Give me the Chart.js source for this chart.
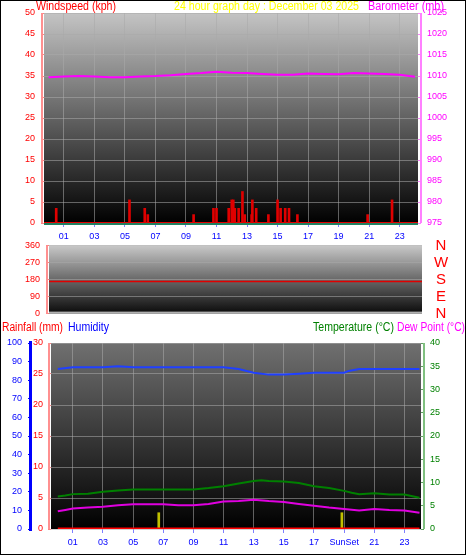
<!DOCTYPE html>
<html><head><meta charset="utf-8">
<script src="https://cdn.jsdelivr.net/npm/chart.js@4"></script>
<style>
body{margin:0;background:#fff;}
#frame{position:absolute;left:0;top:0;width:464px;height:553px;border:1px solid #000;background:#fff;overflow:hidden}
canvas{position:absolute;left:0}
</style></head><body>
<div id="frame">
<canvas id="c1" style="top:0"></canvas>
<canvas id="c2" style="top:233px"></canvas>
<canvas id="c3" style="top:318px"></canvas>
</div>
<script>
// ---- data ----
const hourTicks1 = [1,3,5,7,9,11,13,15,17,19,21,23];
const hourTicks3 = [1,3,5,7,9,11,13,15,17,19,21,23];
const pressHours = [0,1,2,3,4,5,6,7,8,9,10,11,12,13,14,15,16,17,18,19,20,21,22,23,24];
const pressVals  = [1009.7,1009.9,1010.0,1009.9,1009.7,1009.7,1009.9,1010.0,1010.2,1010.5,1010.7,1011.0,1010.8,1010.7,1010.5,1010.3,1010.3,1010.6,1010.5,1010.4,1010.7,1010.6,1010.5,1010.3,1009.8];
const gustHours = [0.5,5.3,6.3,6.5,9.5,10.8,11.0,11.8,12.0,12.1,12.2,12.45,12.7,12.85,13.3,13.35,13.6,14.4,15.0,15.2,15.5,15.75,16.3,20.9,22.5];
const gustVals  = [3.5,5.5,3.5,2,2,3.5,3.5,3.5,5.5,5.5,3.5,3.5,7.5,2,2,5.5,3.5,2,5.5,3.5,3.5,3.5,2,2,5.5];
const dirHours = [0,24];
const dirVals = [170,170];
const humHours = [0,1,3,4,5,7,9,11,12,13,14,15,16,17,18,19,19.3,20,21,22,23,24];
const humVals  = [86,87,87,87.5,87,87,87,87,86,84,83,83,83.5,84,84,84,85,86,86,86,86,86];
const tempHours = [0,0.5,1,2,3,4,5,7,9,10,11,12,13,13.5,14,15,16,17,18,19,19.5,20,21,22,23,24];
const tempVals  = [7,7.2,7.5,7.6,8,8.3,8.5,8.5,8.5,8.8,9.2,9.8,10.3,10.5,10.3,10.2,9.9,9.2,8.8,8.2,7.8,7.5,7.7,7.4,7.4,6.7];
const dewHours = [0,0.5,1,2,3,4,5,7,8,9,10,11,12,13,14,15,16,17,18,19,20,21,22,23,24];
const dewVals  = [3.8,4.1,4.4,4.6,4.8,5.1,5.3,5.3,5.1,5.1,5.4,5.9,6.0,6.3,6.0,5.8,5.4,5.0,4.6,4.3,4.0,4.3,4.1,4.0,3.5];
const rainHours = [0,24];
const rainVals = [0,0];
const sunHours = [6.7,18.85];
const sunVals = [3.5,3.5];
const sunLabels = {19:'SunSet'};
const dirTicks = [0,90,180,270,360];
const dirLabels = ['N','E','S','W','N'];

const FONT = 'Liberation Sans';
Chart.defaults.font.family = FONT;
Chart.defaults.font.size = 9;
Chart.defaults.animation = false;
Chart.defaults.devicePixelRatio = 1;

const bg = {
  id:'bg',
  beforeDraw(ch, a, o){
    const {ctx, chartArea:c} = ch;
    const g = ctx.createLinearGradient(0,c.top,0,c.bottom);
    g.addColorStop(0,o.top||'#bdbdbd'); g.addColorStop(1,o.bottom||'#000');
    ctx.save(); ctx.fillStyle=g; ctx.fillRect(c.left,c.top,c.right-c.left,c.bottom-c.top); ctx.restore();
  },
  afterDraw(ch,a,o){
    const ctx = ch.ctx; ctx.save();
    (o.texts||[]).forEach(t=>{ctx.font=(t.size||12)+'px '+FONT; ctx.fillStyle=t.color; ctx.textAlign=t.align||'left'; ctx.textBaseline='top'; ctx.fillText(t.text,t.x,t.y,t.w);});
    (o.lines||[]).forEach(l=>{ctx.fillStyle=l.color; ctx.fillRect(l.x,l.y,l.w,l.h);});
    ctx.restore();
  }
};
function fixW(w){return function(s){s.width=w;};}
function fixH(h){return function(s){s.height=h;};}
const gridC = 'rgba(170,170,170,0.55)';
const fmt = v=>String(v);

function make(id,w,h){const c=document.getElementById(id); c.width=w; c.height=h; c.style.width=w+'px'; c.style.height=h+'px'; return c;}

// chart 1
new Chart(make('c1',466,245),{
  type:'line',
  data:{datasets:[
    {type:'bar',data:gustHours.map((x,i)=>({x,y:gustVals[i]})),backgroundColor:'#e00000',barThickness:2,yAxisID:'y',order:2},
    {data:pressHours.map((x,i)=>({x,y:pressVals[i]})),borderColor:'#ff00ff',borderWidth:2,pointRadius:0,yAxisID:'y2',order:1},
    {data:[{x:-0.3,y:0},{x:24.2,y:0}],borderColor:'#e00000',borderWidth:2,pointRadius:0,yAxisID:'y',order:3}
  ]},
  options:{responsive:false,layout:{padding:{top:12,bottom:0,left:0,right:0}},
    plugins:{legend:{display:false},tooltip:{enabled:false},
      bg:{top:'#c4c4c4',bottom:'#000',texts:[
        {text:'Windspeed (kph)',x:35,y:0,w:80,color:'#ff0000'},
        {text:'24 hour graph day : December 03 2025',x:173,y:0,w:185,color:'#ffff00'},
        {text:'Barometer (mb)',x:443,y:0,w:76,color:'#ff00ff',align:'right'}],
        lines:[{x:40,y:12,w:2,h:210,color:'#ff9090'},{x:419,y:12,w:2,h:210,color:'#ff80ff'},{x:43,y:222,w:374,h:2,color:'#208060'}]}},
    scales:{
      x:{type:'linear',min:-0.3,max:24.2,offset:false,afterFit:fixH(23),afterBuildTicks:s=>{s.ticks=hourTicks1.map(v=>({value:v}));},
        ticks:{color:'#0000ff',autoSkip:false,callback:v=>String(v).padStart(2,'0'),maxRotation:0,padding:4},
        grid:{offset:false,color:gridC,tickLength:4,tickColor:'#8080ff'},border:{display:false}},
      y:{position:'left',min:0,max:50,afterFit:fixW(43),ticks:{stepSize:5,autoSkip:false,color:'#ff0000',padding:6},grid:{color:gridC,tickLength:3,tickColor:'#ff8080'},border:{display:false}},
      y2:{position:'right',min:975,max:1025,afterFit:fixW(49),ticks:{stepSize:5,autoSkip:false,color:'#ff00ff',padding:6,callback:fmt},grid:{drawOnChartArea:false,tickLength:3,tickColor:'#ff80ff'},border:{display:false}}
    }},
  plugins:[bg]
});

// chart 2
new Chart(make('c2',466,91),{
  type:'line',
  data:{datasets:[{data:dirHours.map((x,i)=>({x,y:dirVals[i]})),borderColor:'#e00000',borderWidth:1.5,pointRadius:0,yAxisID:'y'}]},
  options:{responsive:false,layout:{padding:{top:0,bottom:0,right:45}},
    plugins:{legend:{display:false},tooltip:{enabled:false},bg:{top:'#c8c8c8',bottom:'#0a0a0a'}},
    scales:{
      x:{type:'linear',min:0,max:24,display:false},
      y:{min:0,max:360,afterFit:fixW(48),afterBuildTicks:s=>{s.ticks=dirTicks.map(v=>({value:v}));},ticks:{autoSkip:false,color:'#ff0000',padding:6},grid:{color:gridC,tickLength:3,tickColor:'#ff8080'},border:{display:false}}
    }},
  plugins:[bg,{id:'edge',afterDraw(ch){const {ctx,chartArea:c,scales}=ch;ctx.save();ctx.fillStyle='#ff9090';ctx.fillRect(c.left-3,c.top,2,c.bottom-c.top);ctx.fillStyle='#b0b0b0';ctx.fillRect(c.left,c.bottom-2,c.right-c.left,2);
    ctx.font='15px '+FONT;ctx.fillStyle='#ff0000';ctx.textAlign='center';ctx.textBaseline='middle';
    dirTicks.forEach((v,i)=>ctx.fillText(dirLabels[i],c.right+19,scales.y.getPixelForValue(v)));ctx.restore();}}]
});

// chart 3
new Chart(make('c3',466,237),{
  type:'line',
  data:{datasets:[
    {type:'bar',data:sunHours.map((x,i)=>({x,y:sunVals[i]})),backgroundColor:'#c0c000',barThickness:2,yAxisID:'yt',order:5},
    {data:rainHours.map((x,i)=>({x,y:rainVals[i]})),borderColor:'#ff0000',borderWidth:3,pointRadius:0,yAxisID:'yr',order:1},
    {data:humHours.map((x,i)=>({x,y:humVals[i]})),borderColor:'#2040ff',borderWidth:2,pointRadius:0,yAxisID:'yh',order:2},
    {data:tempHours.map((x,i)=>({x,y:tempVals[i]})),borderColor:'#008000',borderWidth:2,pointRadius:0,yAxisID:'yt',order:3},
    {data:dewHours.map((x,i)=>({x,y:dewVals[i]})),borderColor:'#e000e0',borderWidth:2,pointRadius:0,yAxisID:'yt',order:4}
  ]},
  options:{responsive:false,layout:{padding:{top:24}},
    plugins:{legend:{display:false},tooltip:{enabled:false},
      bg:{top:'#707070',bottom:'#000',texts:[
        {text:'Rainfall (mm)',x:1,y:3,w:61,color:'#ff0000'},
        {text:'Humidity',x:67,y:3,w:41,color:'#0000ff'},
        {text:'Temperature (°C)',x:312,y:3,w:81,color:'#008000'},
        {text:'Dew Point (°C)',x:464,y:3,w:68,color:'#ff00ff',align:'right'}],
        lines:[{x:28,y:22,w:3,h:190,color:'#0000ff'},{x:47,y:24,w:2,h:186,color:'#ff9090'},{x:422,y:24,w:2,h:186,color:'#80c080'}]}},
    scales:{
      x:{type:'linear',min:-0.45,max:24.1,offset:false,afterFit:fixH(27),afterBuildTicks:s=>{s.ticks=hourTicks3.map(v=>({value:v}));},
        ticks:{autoSkip:false,color:'#0000ff',callback:v=>sunLabels[v]||String(v).padStart(2,'0'),maxRotation:0,padding:4},
        grid:{offset:false,color:gridC,tickLength:4,tickColor:'#8080ff'},border:{display:false}},
      yr:{position:'left',min:0,max:30,afterFit:fixW(20),ticks:{autoSkip:false,stepSize:5,color:'#ff0000',padding:5},grid:{color:gridC,tickLength:3,tickColor:'#ff8080'},border:{display:false}},
      yh:{position:'left',min:0,max:100,afterFit:fixW(30),ticks:{autoSkip:false,stepSize:10,color:'#0000ff',padding:6},grid:{drawOnChartArea:false,tickLength:3,tickColor:'#0000ff'},border:{display:false}},
      yt:{position:'right',min:0,max:40,afterFit:fixW(46),ticks:{autoSkip:false,stepSize:5,color:'#008000',padding:6},grid:{drawOnChartArea:false,tickLength:3,tickColor:'#60a060'},border:{display:false}}
    }},
  plugins:[bg]
});
</script>
</body></html>
